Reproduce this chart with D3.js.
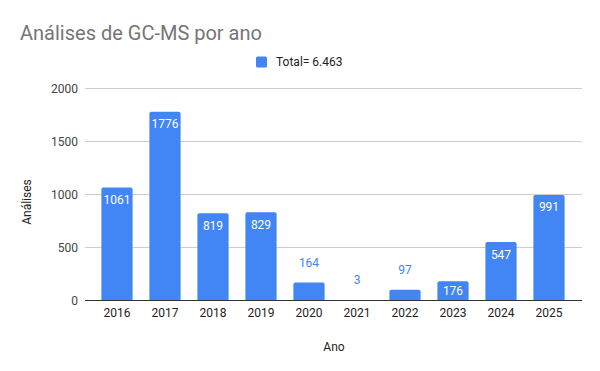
<!DOCTYPE html>
<html>
<head>
<meta charset="utf-8">
<script src="https://cdn.jsdelivr.net/npm/d3@7"></script>
<style>
  body { margin: 0; background: #fff; }
  text { font-family: Roboto, Arial, sans-serif; }
</style>
</head>
<body>
<svg id="chart" width="600" height="371"></svg>
<script>
// data
const years = ['2016', '2017', '2018', '2019', '2020', '2021', '2022', '2023', '2024', '2025'];
const analyses = [1061, 1776, 819, 829, 164, 3, 97, 176, 547, 991];
const yTicks = [0, 500, 1000, 1500, 2000];
const legendLabel = 'Total= 6.463';

const svg = d3.select('#chart');
const blue = '#4285F4';

const x = d3.scaleBand()
  .domain(years)
  .range([93, 573])
  .paddingInner(0.35)
  .paddingOuter(0.175);

const y = d3.scaleLinear()
  .domain([0, 2000])
  .range([300, 88]);

// title
svg.append('text')
  .attr('x', 20).attr('y', 40)
  .attr('font-size', 20)
  .attr('font-family', '"Liberation Sans", Arial, sans-serif')
  .attr('fill', '#757575')
  .text('Análises de GC-MS por ano');

// legend
svg.append('rect')
  .attr('x', 256).attr('y', 56.5)
  .attr('width', 11).attr('height', 11)
  .attr('rx', 1.5)
  .attr('fill', blue);
svg.append('text')
  .attr('x', 276).attr('y', 66)
  .attr('font-size', 12)
  .attr('font-family', '"Liberation Sans", Arial, sans-serif')
  .attr('fill', '#222')
  .text(legendLabel);

// grid
svg.append('g')
  .selectAll('line')
  .data(yTicks.filter(d => d > 0))
  .join('line')
  .attr('x1', 85).attr('x2', 582)
  .attr('y1', d => Math.round(y(d)) + 0.5)
  .attr('y2', d => Math.round(y(d)) + 0.5)
  .attr('stroke', '#ccc');

// y axis labels
svg.append('g')
  .selectAll('text')
  .data(yTicks)
  .join('text')
  .attr('x', 78)
  .attr('y', d => y(d) + 4.5)
  .attr('text-anchor', 'end')
  .attr('font-size', 12)
  .attr('fill', '#444')
  .text(d => d);

// bars with rounded tops
const r = 2;
svg.append('g')
  .selectAll('path')
  .data(analyses.filter(d => y(0) - y(d) >= 1))
  .join('path')
  .attr('fill', blue)
  .attr('d', d => {
    const i = analyses.indexOf(d);
    const x0 = x(years[i]), w = x.bandwidth();
    const y0 = y(d), y1 = y(0);
    const rr = Math.min(r, (y1 - y0) / 2);
    return `M${x0},${y1}V${y0 + rr}Q${x0},${y0} ${x0 + rr},${y0}H${x0 + w - rr}Q${x0 + w},${y0} ${x0 + w},${y0 + rr}V${y1}Z`;
  });

// baseline
svg.append('line')
  .attr('x1', 85).attr('x2', 582)
  .attr('y1', 300.5).attr('y2', 300.5)
  .attr('stroke', '#333');

// value labels: inside when the bar is tall enough, above otherwise
const inside = d => y(0) - y(d) >= 18;
svg.append('g')
  .selectAll('text')
  .data(analyses)
  .join('text')
  .attr('x', (d, i) => x(years[i]) + x.bandwidth() / 2)
  .attr('y', d => {
    const h = y(0) - y(d);
    if (h >= 30) return y(d) + 16.5;
    if (inside(d)) return y(d) + h / 2 + 4.5;
    return y(d) - 15.5;
  })
  .attr('text-anchor', 'middle')
  .attr('font-size', 12)
  .attr('fill', d => (inside(d) ? '#fff' : blue))
  .text(d => d);

// x axis labels
svg.append('g')
  .selectAll('text')
  .data(years)
  .join('text')
  .attr('x', d => x(d) + x.bandwidth() / 2)
  .attr('y', 317)
  .attr('text-anchor', 'middle')
  .attr('font-size', 12)
  .attr('fill', '#222')
  .text(d => d);

// axis titles
svg.append('text')
  .attr('x', 334).attr('y', 351)
  .attr('text-anchor', 'middle')
  .attr('font-size', 12)
  .attr('fill', '#222')
  .text('Ano');
svg.append('text')
  .attr('transform', 'translate(31,202) rotate(-90)')
  .attr('text-anchor', 'middle')
  .attr('font-size', 12)
  .attr('fill', '#222')
  .text('Análises');
</script>
</body>
</html>
